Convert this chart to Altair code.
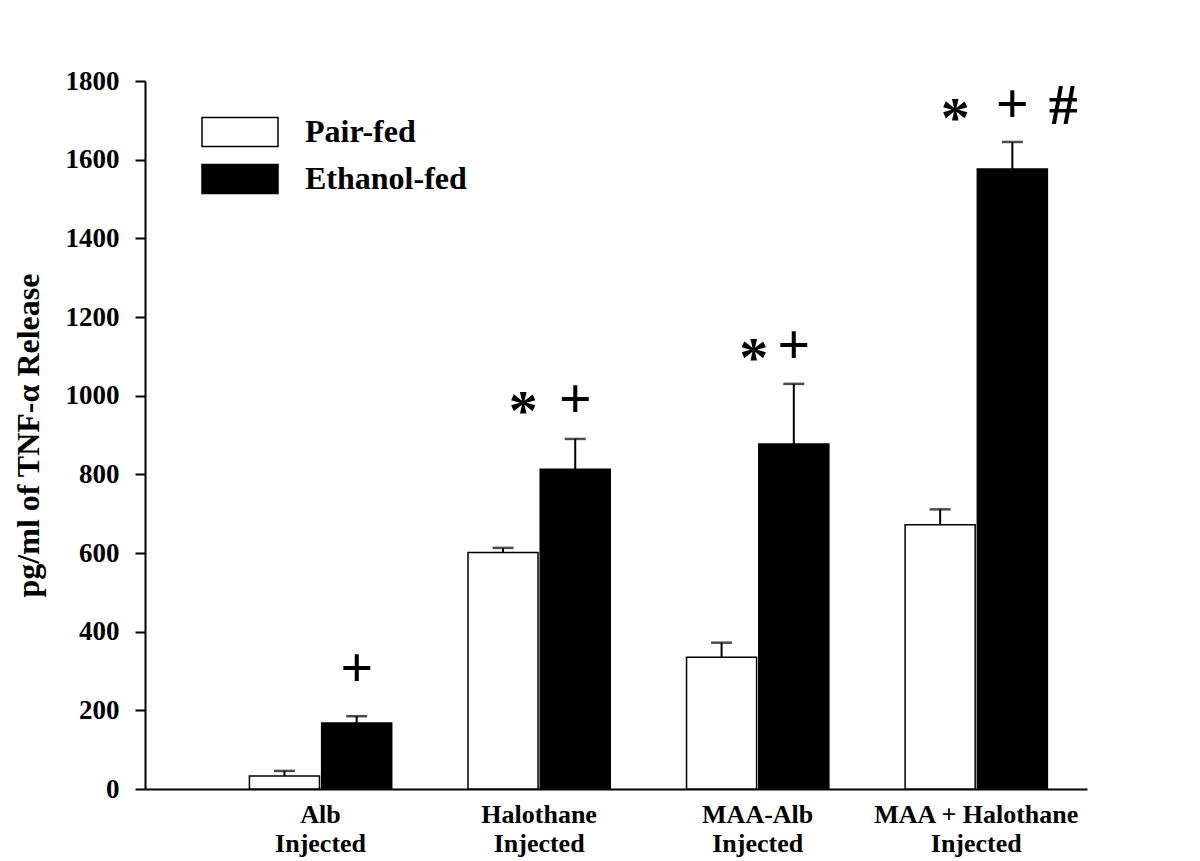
import altair as alt
import pandas as pd

# ---- data ----
categories = ["Alb", "Halothane", "MAA-Alb", "MAA + Halothane"]
series_names = ["Pair-fed", "Ethanol-fed"]
pair_fed = [33, 601, 335, 672]
pair_fed_sem = [13, 12, 37, 39]
ethanol_fed = [168, 813, 877, 1576]
ethanol_fed_sem = [17, 77, 153, 69]

# significance markers (drawn above the ethanol-fed bars)
star_cats = ["Halothane", "MAA-Alb", "MAA + Halothane"]
star_y = [956, 1091, 1701]
plus_cats = ["Alb", "Halothane", "MAA-Alb", "MAA + Halothane"]
plus_y = [302, 987, 1123, 1736]
hash_cats = ["MAA + Halothane"]
hash_y = [1734]

y_ticks = [0, 200, 400, 600, 800, 1000, 1200, 1400, 1600, 1800]

# ---- tables ----
rows = []
for c, v, e in zip(categories, pair_fed, pair_fed_sem):
    rows.append({"category": c, "series": "Pair-fed", "value": v, "upper": v + e})
for c, v, e in zip(categories, ethanol_fed, ethanol_fed_sem):
    rows.append({"category": c, "series": "Ethanol-fed", "value": v, "upper": v + e})
df = pd.DataFrame(rows)


def marks_df(cats, ys, sym):
    return pd.DataFrame({"category": cats, "y": ys, "sym": sym, "series": "Ethanol-fed"})


FONT = "Liberation Serif"

x_enc = alt.X(
    "category:N",
    sort=categories,
    scale=alt.Scale(paddingInner=0.349, paddingOuter=0.3295, align=0.725),
    axis=alt.Axis(
        title=None,
        labelExpr="[datum.label, 'Injected']",
        labelAngle=0,
        labelFont=FONT,
        labelFontSize=26,
        labelFontWeight="bold",
        labelColor="black",
        labelLineHeight=29,
        labelPadding=12,
        labelLimit=0,
        ticks=False,
        domainColor="black",
        domainWidth=2,
        grid=False,
    ),
)
xoff_enc = alt.XOffset("series:N", sort=series_names,
                       scale=alt.Scale(domain=series_names, paddingInner=0.03, paddingOuter=0))

y_scale = alt.Scale(domain=[0, 1800], nice=False, zero=True)
y_axis = alt.Axis(
    values=y_ticks,
    format="d",
    title="pg/ml of TNF-α Release",
    titleFont=FONT,
    titleFontSize=32,
    titleFontWeight="bold",
    titleColor="black",
    titlePadding=20,
    labelFont=FONT,
    labelFontSize=27,
    labelFontWeight="bold",
    labelColor="black",
    labelPadding=16,
    tickSize=10,
    tickWidth=2,
    tickColor="black",
    domainColor="black",
    domainWidth=2,
    grid=False,
)

bars = alt.Chart(df).mark_bar(stroke="black", strokeWidth=1.5).encode(
    x=x_enc,
    xOffset=xoff_enc,
    y=alt.Y("value:Q", scale=y_scale, axis=y_axis),
    color=alt.Color(
        "series:N",
        sort=series_names,
        scale=alt.Scale(domain=series_names, range=["white", "black"]),
        legend=alt.Legend(
            title=None,
            orient="none",
            legendX=74,
            legendY=30,
            symbolType="M-1.9,-0.725H1.9V0.725H-1.9Z",
            symbolSize=1600,
            symbolStrokeColor="black",
            symbolStrokeWidth=1.5,
            symbolOpacity=1,
            labelFont=FONT,
            labelFontSize=32,
            labelFontWeight="bold",
            labelColor="black",
            labelOffset=44,
            labelLimit=0,
            rowPadding=8,
            padding=0,
        ),
    ),
)

stems = alt.Chart(df).mark_rule(color="black", strokeWidth=2).encode(
    x=alt.X("category:N", sort=categories),
    xOffset=alt.XOffset("series:N", sort=series_names),
    y=alt.Y("value:Q"),
    y2="upper:Q",
)

caps = alt.Chart(df).mark_tick(color="black", thickness=2.5, size=21, orient="horizontal").encode(
    x=alt.X("category:N", sort=categories),
    xOffset=alt.XOffset("series:N", sort=series_names),
    y=alt.Y("upper:Q"),
)


def sym_layer(cats, ys, sym, dx):
    return alt.Chart(marks_df(cats, ys, sym)).mark_text(
        font=FONT, fontSize=58, fontWeight="bold", color="black",
        align="center", baseline="middle", dx=dx
    ).encode(
        x=alt.X("category:N", sort=categories),
        xOffset=alt.XOffset("series:N", sort=series_names),
        y=alt.Y("y:Q"),
        text="sym:N",
    )


# horizontal offset of each asterisk from its bar centre (style)
star_dx = {"Halothane": -52, "MAA-Alb": -40, "MAA + Halothane": -57}
star_layers = [
    sym_layer([c], [y], "*", star_dx[c]) for c, y in zip(star_cats, star_y)
]
pluses = sym_layer(plus_cats, plus_y, "+", 0)
hashes = sym_layer(hash_cats, hash_y, "#", 51)

chart = alt.layer(bars, stems, caps, *star_layers, pluses, hashes).properties(
    width=942,
    height=708,
    autosize=alt.AutoSizeParams(type="none"),
    padding={"left": 137, "top": 73, "right": 105, "bottom": 70},
    background="white",
).configure_view(stroke=None)

chart.save("out.html", embed_options={"renderer": "svg", "actions": False})
